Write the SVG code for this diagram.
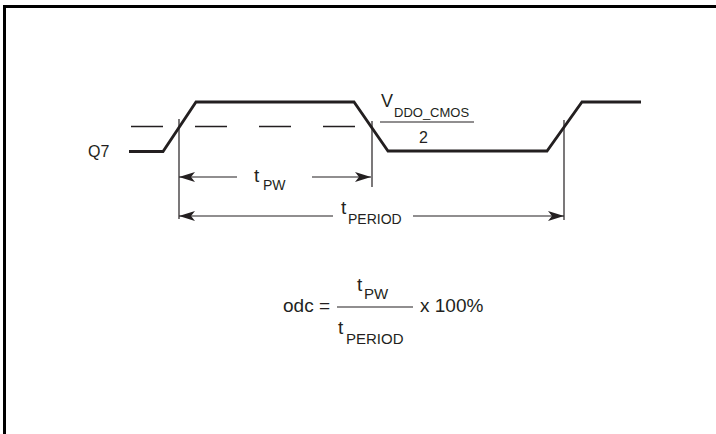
<svg xmlns="http://www.w3.org/2000/svg" width="716" height="434" viewBox="0 0 716 434">
<defs>
<style>
.t{font-family:"Liberation Sans",Arial,sans-serif;fill:#231f20}
.wave{fill:none;stroke:#231f20;stroke-width:2.8;stroke-linejoin:miter}
.thin{fill:none;stroke:#231f20;stroke-width:1.2}
.dash{fill:none;stroke:#231f20;stroke-width:1.3;stroke-dasharray:32 32}
</style>
<marker id="ah" viewBox="0 0 16 10" refX="16" refY="5" markerWidth="16" markerHeight="10" markerUnits="userSpaceOnUse" orient="auto-start-reverse">
<path d="M0,0 L16,5 L0,10 L4,5 Z" fill="#231f20"/>
</marker>
</defs>
<rect x="0" y="0" width="716" height="434" fill="#fff"/>
<path d="M4.5,434 V6.5 H716" fill="none" stroke="#000" stroke-width="3"/>
<g id="waveform">
<path class="wave" d="M129,151.5 H163 L196,102 H354 L388,151 H547 L582,102 H641"/>
<path class="dash" d="M131,126.5 H356"/>
<text class="t" x="88" y="157" font-size="16">Q7</text>
</g>
<g id="threshold">
<text class="t" x="381" y="107" font-size="18">V</text>
<text class="t" x="394" y="117" font-size="13">DDO_CMOS</text>
<path class="thin" d="M380,122 H474"/>
<text class="t" x="419" y="143" font-size="16">2</text>
</g>
<g id="connectors">
<path class="thin" d="M179,119 V219"/>
<path class="thin" d="M372,121 V187"/>
<path class="thin" d="M564,120 V220"/>
<path class="thin" d="M237,177 H179" marker-end="url(#ah)"/>
<path class="thin" d="M312,177 H371" marker-end="url(#ah)"/>
<path class="thin" d="M333,216 H179" marker-end="url(#ah)"/>
<path class="thin" d="M413,216 H564" marker-end="url(#ah)"/>
</g>
<g id="label-tpw">
<text class="t" x="254" y="182" font-size="19">t</text>
<text class="t" x="263" y="190" font-size="14">PW</text>
</g>
<g id="label-tperiod">
<text class="t" x="341" y="214" font-size="19">t</text>
<text class="t" x="348" y="224" font-size="14">PERIOD</text>
</g>
<g id="formula">
<text class="t" x="283" y="312" font-size="19">odc =</text>
<text class="t" x="357" y="291" font-size="19">t</text>
<text class="t" x="364" y="299" font-size="15">PW</text>
<path class="thin" d="M337,307 H413"/>
<text class="t" x="420" y="312" font-size="19">x 100%</text>
<text class="t" x="338" y="334" font-size="19">t</text>
<text class="t" x="346" y="344" font-size="15">PERIOD</text>
</g>
</svg>
